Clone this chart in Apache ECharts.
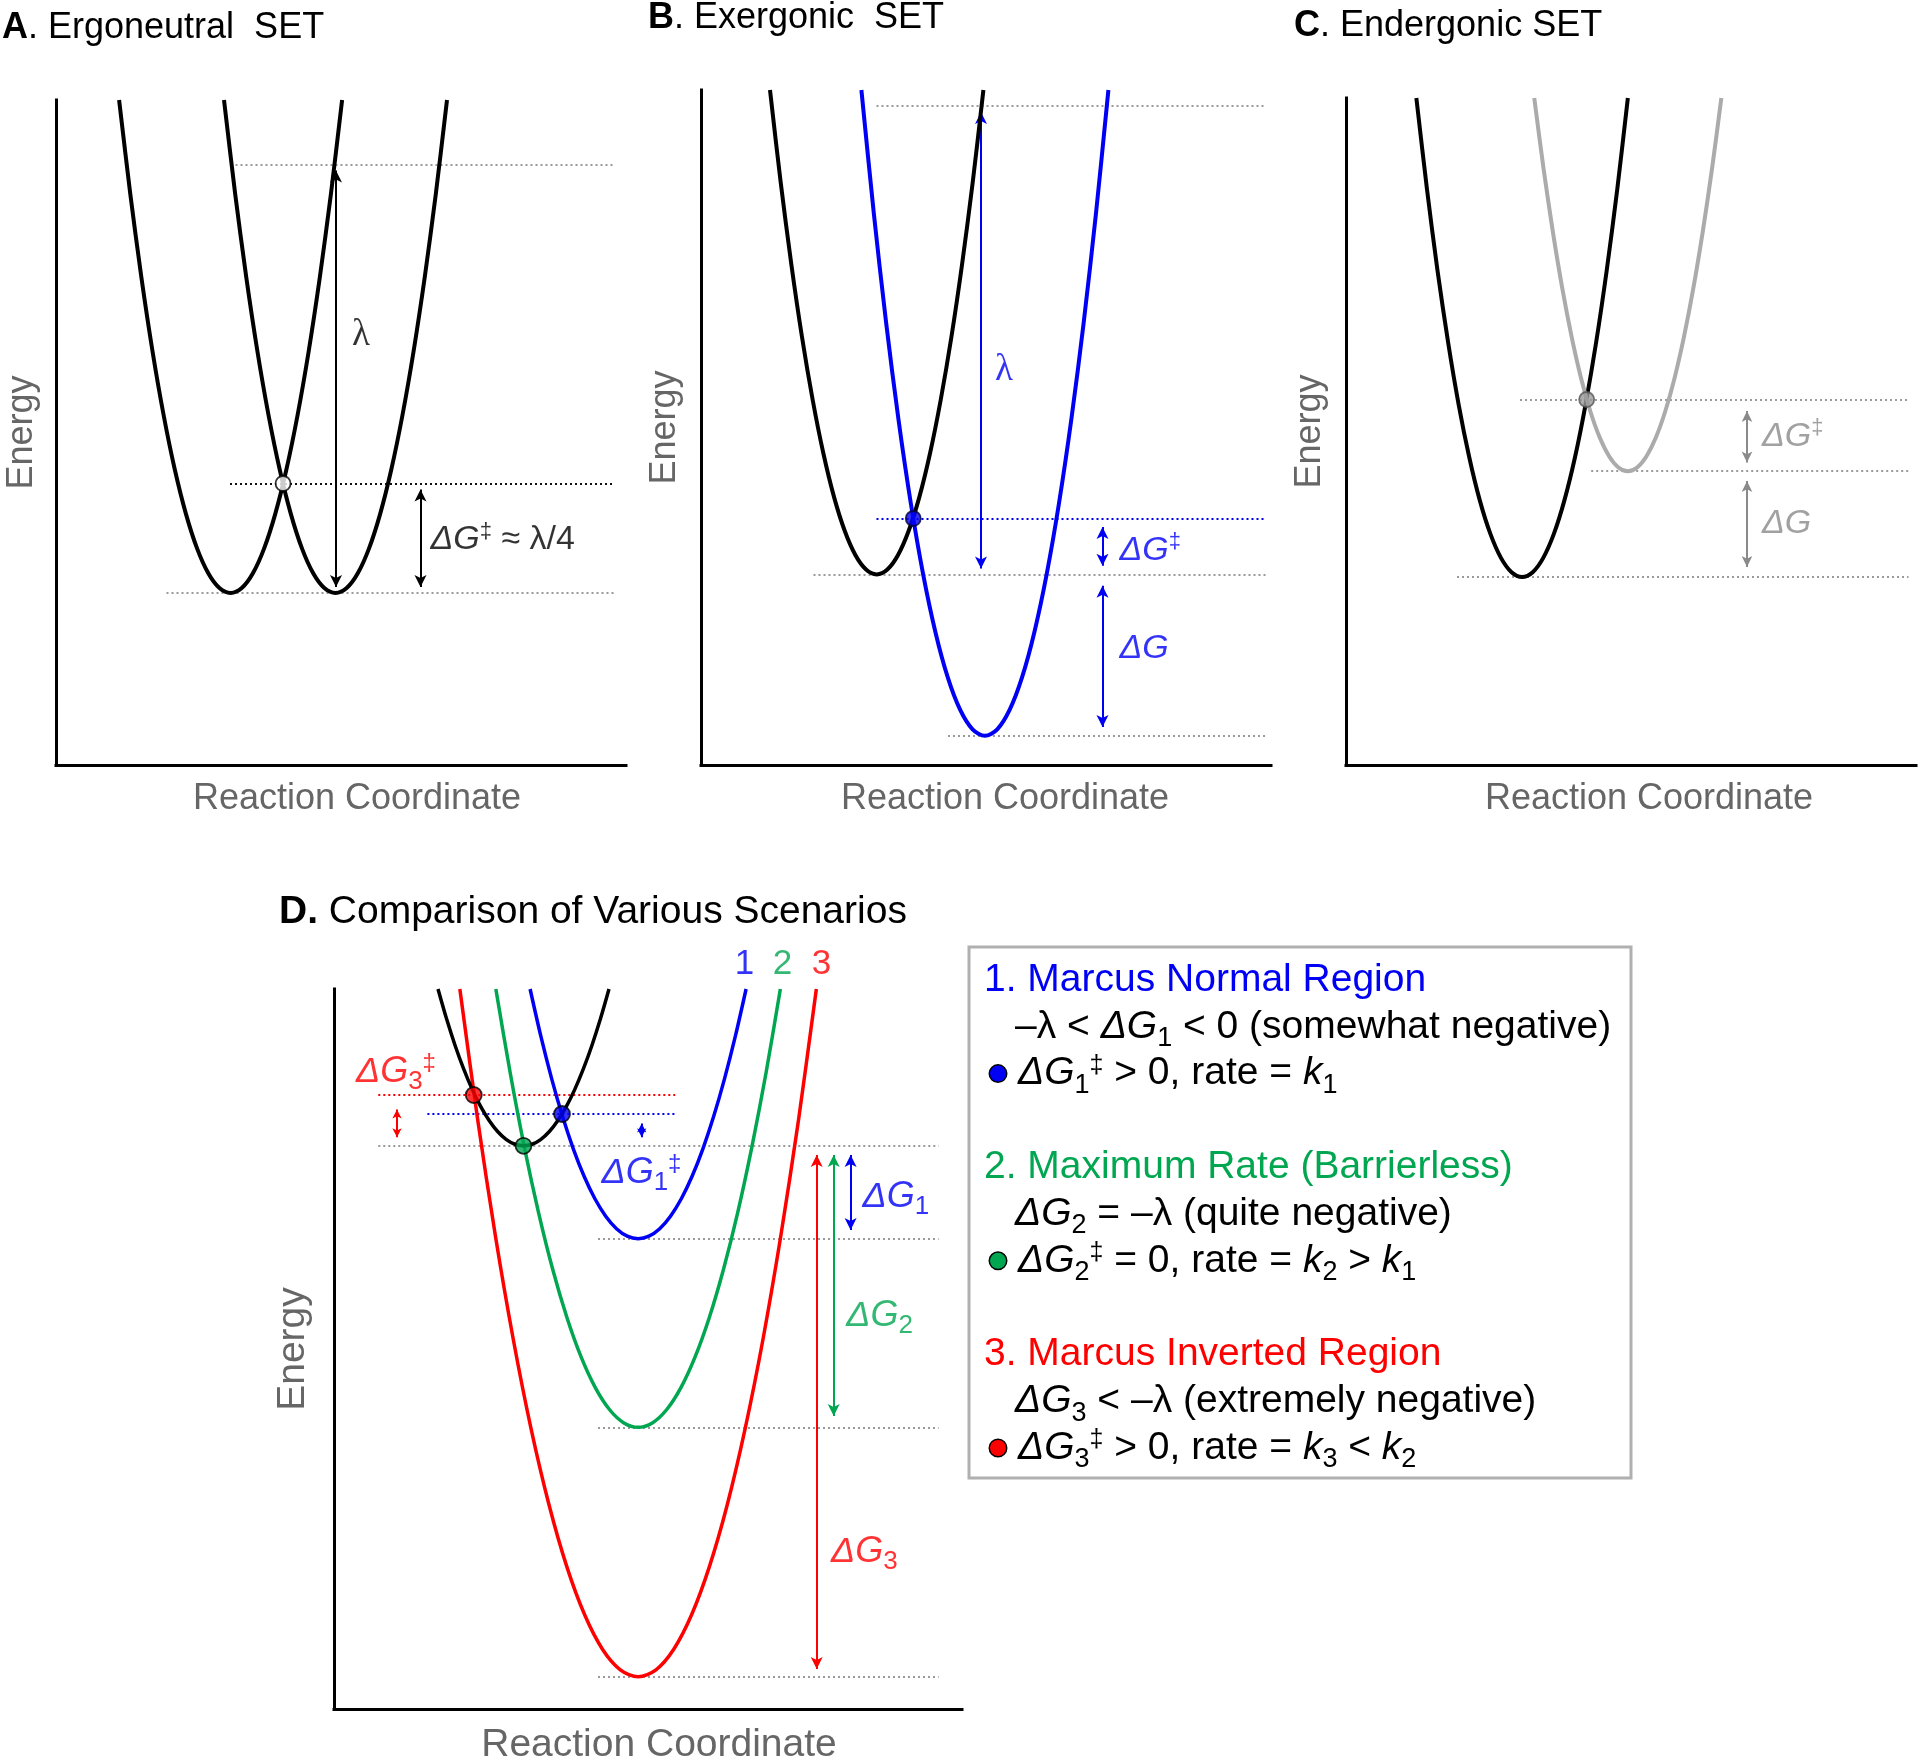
<!DOCTYPE html>
<html>
<head>
<meta charset="utf-8">
<title>Marcus theory SET diagrams</title>
<script src="https://cdn.jsdelivr.net/npm/echarts@6/dist/echarts.min.js"></script>
<style>
html,body{margin:0;padding:0;background:#ffffff;}
#chart{width:1918px;height:1763px;}
</style>
</head>
<body>
<div id="chart"></div>
<script>
// ====================== DATA ======================
// axis extents of each panel (arbitrary reaction-coordinate / energy units)
const panelXMax = [114, 114, 114, 125.6];
const panelYMax = [133, 135, 133.4, 144];

const panelTitles = ['{b|A}. Ergoneutral  SET', '{b|B}. Exergonic  SET', '{b|C}. Endergonic SET', '{b|D.} Comparison of Various Scenarios'];
const xAxisTitle = 'Reaction Coordinate';
const yAxisTitle = 'Energy';

// ---- Panel A : Ergoneutral SET (both wells have the same energy profile) ----
const aReactantX = [12.62,14.85,17.08,19.31,21.54,23.77,26.0,28.23,30.46,32.69,34.92,37.15,39.38,41.61,43.84,46.07,48.3,50.53,52.76,54.99,57.22];
const aProductX  = [33.6,35.83,38.06,40.29,42.52,44.75,46.98,49.21,51.44,53.67,55.9,58.13,60.36,62.59,64.82,67.05,69.28,71.51,73.74,75.97,78.2];
const aEnergy    = [133.0,114.27,97.5,82.71,69.9,59.05,50.18,43.27,38.34,35.39,34.4,35.39,38.34,43.27,50.18,59.05,69.9,82.71,97.5,114.27,133.0];
const aCrossing = [[45.41,56.3]];
const aGrayLevels = [[34.9,111.6,120.1],[22.1,111.6,34.4]];      // [x from, x to, energy]
const aBarrierLevels = [[34.8,111.6,56.3]];
const aArrows = [[56.0,35.6,118.9],[72.9,55.1,35.6]];           // [x, energy from, energy to]
const aLabels = [[59.2,86.0,'{l|λ}'],[74.9,45.0,'{i|ΔG}{sup|‡}{n| ≈ λ/4}']];

// ---- Panel B : Exergonic SET ----
const bReactantX = [13.8,15.93,18.07,20.2,22.34,24.47,26.6,28.74,30.87,33.01,35.14,37.27,39.41,41.54,43.68,45.81,47.94,50.08,52.21,54.35,56.48];
const bReactantE = [135.0,116.59,100.12,85.59,73.0,62.34,53.62,46.84,42.0,39.09,38.12,39.09,42.0,46.84,53.62,62.34,73.0,85.59,100.12,116.59,135.0];
const bProductX  = [32.08,34.55,37.02,39.49,41.96,44.43,46.9,49.37,51.84,54.31,56.78,59.25,61.72,64.19,66.66,69.13,71.6,74.07,76.54,79.01,81.48];
const bProductE  = [135.0,110.46,88.5,69.13,52.34,38.13,26.51,17.46,11.01,7.13,5.84,7.13,11.01,17.46,26.51,38.13,52.34,69.13,88.5,110.46,135.0];
const bCrossing = [[42.45,49.3]];
const bGrayLevels = [[35.1,113.1,131.8],[22.5,113.1,38.12],[49.4,113.1,5.84]];
const bBarrierLevels = [[35.1,113.1,49.3]];
const bArrows = [[56.0,39.3,130.6],[80.3,47.6,39.86],[80.3,35.86,7.6]];
const bLabels = [[58.8,79.0,'{l|λ}'],[83.7,42.9,'{i|ΔG}{sup|‡}'],[83.7,23.3,'{i|ΔG}']];

// ---- Panel C : Endergonic SET ----
const cReactantX = [14.07,16.19,18.3,20.42,22.53,24.65,26.76,28.88,30.99,33.11,35.22,37.34,39.45,41.57,43.68,45.8,47.91,50.03,52.14,54.26,56.37];
const cReactantE = [133.4,115.2,98.91,84.54,72.09,61.55,52.93,46.22,41.43,38.56,37.6,38.56,41.43,46.22,52.93,61.55,72.09,84.54,98.91,115.2,133.4];
const cProductX  = [37.65,39.52,41.39,43.26,45.13,47.0,48.88,50.75,52.62,54.49,56.36,58.23,60.1,61.97,63.84,65.72,67.59,69.46,71.33,73.2,75.07];
const cProductE  = [133.4,119.22,106.53,95.33,85.63,77.42,70.7,65.48,61.75,59.51,58.76,59.51,61.75,65.48,70.7,77.42,85.63,95.33,106.53,119.22,133.4];
const cCrossing = [[48.13,73.1]];
const cGrayLevels = [[34.8,112.5,73.1],[49.04,112.5,58.76],[22.2,112.5,37.6]];
const cArrows = [[80.2,70.8,60.5],[80.2,56.8,39.6]];
const cLabels = [[83.2,65.66,'{i|ΔG}{sup|‡}'],[83.2,48.2,'{i|ΔG}']];

// ---- Panel D : Comparison of various scenarios ----
const dReactantX = [20.8,22.51,24.22,25.93,27.64,29.35,31.06,32.77,34.48,36.19,37.9,39.61,41.32,43.03,44.74,46.45,48.16,49.87,51.58,53.29,55.0];
const dReactantE = [144,138.04,132.71,128.01,123.93,120.48,117.66,115.46,113.89,112.95,112.64,112.95,113.89,115.46,117.66,120.48,123.93,128.01,132.71,138.04,144];
const dNormalX = [39.22,41.38,43.54,45.7,47.86,50.02,52.18,54.34,56.5,58.66,60.82,62.98,65.14,67.3,69.46,71.62,73.78,75.94,78.1,80.26,82.42];
const dNormalE = [144,134.51,126.02,118.53,112.04,106.55,102.05,98.56,96.06,94.56,94.06,94.56,96.06,98.56,102.05,106.55,112.04,118.53,126.02,134.51,144];
const dBarrierlessX = [32.37,35.22,38.06,40.91,43.75,46.6,49.44,52.29,55.13,57.98,60.82,63.67,66.51,69.36,72.2,75.05,77.89,80.74,83.58,86.43,89.27];
const dBarrierlessE = [144,127.34,112.44,99.29,87.9,78.26,70.37,64.23,59.85,57.22,56.34,57.22,59.85,64.23,70.37,78.26,87.9,99.29,112.44,127.34,144];
const dInvertedX = [25.17,28.74,32.3,35.87,39.43,43.0,46.56,50.13,53.69,57.26,60.82,64.39,67.95,71.52,75.08,78.65,82.21,85.78,89.34,92.91,96.47];
const dInvertedE = [144,117.87,94.49,73.85,55.97,40.85,28.47,18.84,11.96,7.84,6.46,7.84,11.96,18.84,28.47,40.85,55.97,73.85,94.49,117.87,144];
const dCrossings = [[45.6,119.0],[37.9,112.64],[27.95,122.8]];   // scenario 1, 2, 3
const dGrayLevels = [[8.86,120.92,112.64],[52.8,120.92,94.06],[52.8,120.92,56.34],[52.8,120.92,6.46]];
const dBarrier1 = [[18.68,68.24,119.0]];
const dBarrier3 = [[8.86,68.24,122.8]];
const dArrows1 = [[103.32,110.8,95.82]];
const dArrows2 = [[99.94,110.8,58.6]];
const dArrows3 = [[96.54,110.8,8.0]];
const dSmallArrows1 = [[61.54,117.1,114.34]];
const dSmallArrows3 = [[12.6,119.9,114.34]];
const dLabels1 = [[53.5,107.2,'{i|ΔG}{sub|1}{sup|‡}'],[105.7,102.4,'{i|ΔG}{sub|1}']];
const dLabels2 = [[102.46,78.7,'{i|ΔG}{sub|2}']];
const dLabels3 = [[4.4,127.4,'{i|ΔG}{sub|3}{sup|‡}'],[99.4,31.4,'{i|ΔG}{sub|3}']];
const dCurveNumbers = [[82.1,148.9,'1'],[89.7,148.9,'2'],[97.5,148.9,'3']];

const legendLines = [
  '{h1|1. Marcus Normal Region}',
  '{ind|}{t|–λ < }{i|ΔG}{sub|1}{t| < 0 (somewhat negative)}',
  '{pad|}{dot1|}{gap|}{i|ΔG}{sub|1}{sup|‡}{t| > 0, rate = }{i|k}{sub|1}',
  '{t| }',
  '{h2|2. Maximum Rate (Barrierless)}',
  '{ind|}{i|ΔG}{sub|2}{t| = –λ (quite negative)}',
  '{pad|}{dot2|}{gap|}{i|ΔG}{sub|2}{sup|‡}{t| = 0, rate = }{i|k}{sub|2}{t| > }{i|k}{sub|1}',
  '{t| }',
  '{h3|3. Marcus Inverted Region}',
  '{ind|}{i|ΔG}{sub|3}{t| < –λ (extremely negative)}',
  '{pad|}{dot3|}{gap|}{i|ΔG}{sub|3}{sup|‡}{t| > 0, rate = }{i|k}{sub|3}{t| < }{i|k}{sub|2}'
];

// ====================== STYLE / LAYOUT ======================
const FONT = "'Liberation Sans', Arial, Helvetica, sans-serif";
const SERIF = "'Liberation Serif', 'Times New Roman', serif";
const BLUE = '#0000f5', GREEN = '#00a650', RED = '#ff0000';
const GRAY_DOT = '#9a9a9a', GRAY_TXT = '#8a8a8a', GRAY_CURVE = '#ababab', AXIS_NAME = '#666666';

const grids = [
  {left:56,  top:100, width:570, height:665},
  {left:701, top:90,  width:570, height:675},
  {left:1346,top:98,  width:570, height:667},
  {left:334, top:989, width:628, height:720}
];
const axisNameSize = [36, 36, 36, 39];
const xNameShift = [32, 38, 36, 22];
const xNameGap = [16, 16, 16, 17];
const yNameGap = [16, 18, 18, 21];
const titlePos = [[2,10,36],[648,0,36],[1294,8,36],[279,893,39]];

const zip = (xs, ys) => xs.map((x,k) => [x, ys[k]]);

function richFor(size, color) {
  return {
    i:   {fontStyle:'italic', fontSize:size, color:color, fontFamily:FONT},
    n:   {fontSize:size, color:color, fontFamily:FONT},
    l:   {fontSize:Math.round(size*1.1), color:color, fontFamily:SERIF},
    sub: {fontSize:Math.round(size*0.72), color:color, fontFamily:FONT, padding:[Math.round(size*0.55),0,0,0]},
    sup: {fontSize:Math.round(size*0.66), color:color, fontFamily:FONT, padding:[0,0,Math.round(size*0.5),0]}
  };
}
function curveSeries(gi, data, color, width) {
  return {type:'line', xAxisIndex:gi, yAxisIndex:gi, data:data, smooth:0.3, symbol:'none', showSymbol:false,
          silent:true, clip:false, z:6, lineStyle:{color:color, width:width, join:'round'}};
}
function levelItems(list, color) {
  return list.map(([x1,x2,y]) => [
    {coord:[x1,y], symbol:'none', lineStyle:{color:color, width:2, type:[2,3]}},
    {coord:[x2,y], symbol:'none'}]);
}
function arrowItems(list, color, size) {
  return list.map(([x,y1,y2]) => [
    {coord:[x,y1], symbol:'arrow', symbolSize:size, lineStyle:{color:color, width:2, type:'solid'}, itemStyle:{color:color}},
    {coord:[x,y2], symbol:'arrow', symbolSize:size, itemStyle:{color:color}}]);
}
function markHost(gi, items) {
  return {type:'scatter', xAxisIndex:gi, yAxisIndex:gi, data:[[0,0]], symbolSize:0, silent:true, clip:false, z:2,
          markLine:{silent:true, animation:false, symbol:'none', label:{show:false}, data:items}};
}
function labelSeries(gi, list, color, size) {
  return {type:'scatter', xAxisIndex:gi, yAxisIndex:gi, symbolSize:0, silent:true, clip:false, z:8,
          data:list.map(([x,y,t]) => ({value:[x,y], label:{formatter:t}})),
          label:{show:true, position:'right', distance:0, color:color, fontSize:size, fontFamily:FONT, rich:richFor(size,color)}};
}
function dotSeries(gi, list, fills, border, size) {
  return {type:'scatter', xAxisIndex:gi, yAxisIndex:gi, symbol:'circle', symbolSize:size, silent:true, clip:false, z:10,
          data:list.map((p,k) => ({value:p, itemStyle:{color:fills[k], borderColor:border, borderWidth:1.8}}))};
}

const series = [
  // Panel A
  markHost(0, [...levelItems(aGrayLevels, GRAY_DOT), ...levelItems(aBarrierLevels, '#111'), ...arrowItems(aArrows, '#000', [9,12])]),
  curveSeries(0, zip(aReactantX, aEnergy), '#000', 4),
  curveSeries(0, zip(aProductX, aEnergy), '#000', 4),
  dotSeries(0, aCrossing, ['#ffffff'], '#000', 15),
  labelSeries(0, aLabels, '#000', 34),
  // Panel B
  markHost(1, [...levelItems(bGrayLevels, GRAY_DOT), ...levelItems(bBarrierLevels, BLUE), ...arrowItems(bArrows, BLUE, [9,12])]),
  curveSeries(1, zip(bReactantX, bReactantE), '#000', 4),
  curveSeries(1, zip(bProductX, bProductE), BLUE, 4),
  dotSeries(1, bCrossing, [BLUE], '#000033', 15),
  labelSeries(1, bLabels, BLUE, 34),
  // Panel C
  markHost(2, [...levelItems(cGrayLevels, GRAY_DOT), ...arrowItems(cArrows, GRAY_TXT, [8,11])]),
  curveSeries(2, zip(cReactantX, cReactantE), '#000', 4),
  curveSeries(2, zip(cProductX, cProductE), GRAY_CURVE, 4),
  dotSeries(2, cCrossing, ['#9a9a9a'], '#555', 15),
  labelSeries(2, cLabels, GRAY_TXT, 34),
  // Panel D
  markHost(3, [...levelItems(dGrayLevels, GRAY_DOT), ...levelItems(dBarrier1, BLUE), ...levelItems(dBarrier3, RED),
               ...arrowItems(dArrows1, BLUE, [9,12]), ...arrowItems(dArrows2, GREEN, [9,12]), ...arrowItems(dArrows3, RED, [9,12]),
               ...arrowItems(dSmallArrows1, BLUE, [7,9]), ...arrowItems(dSmallArrows3, RED, [7,9])]),
  curveSeries(3, zip(dInvertedX, dInvertedE), RED, 3.5),
  curveSeries(3, zip(dBarrierlessX, dBarrierlessE), GREEN, 3.5),
  curveSeries(3, zip(dNormalX, dNormalE), BLUE, 3.5),
  curveSeries(3, zip(dReactantX, dReactantE), '#000', 3.5),
  dotSeries(3, dCrossings, [BLUE, GREEN, RED], '#000', 16),
  labelSeries(3, dLabels1, BLUE, 36),
  labelSeries(3, dLabels2, GREEN, 36),
  labelSeries(3, dLabels3, RED, 36),
  {type:'scatter', xAxisIndex:3, yAxisIndex:3, symbolSize:0, silent:true, clip:false, z:8,
   data:dCurveNumbers.map(([x,y,t],k) => ({value:[x,y], label:{formatter:t, color:[BLUE,GREEN,RED][k]}})),
   label:{show:true, position:'inside', fontSize:35, fontFamily:FONT}}
];

const titles = panelTitles.map((t,i) => ({
  text:t, left:titlePos[i][0], top:titlePos[i][1], padding:0,
  textStyle:{fontSize:titlePos[i][2], fontWeight:'normal', color:'#000', fontFamily:FONT,
             rich:{b:{fontWeight:'bold', fontSize:titlePos[i][2], color:'#000', fontFamily:FONT}}}
}));
titles.push({
  text: legendLines.join('\n'), left:984, top:956.6, padding:0,
  textStyle:{fontSize:39, lineHeight:46.8, color:'#000', fontWeight:'normal', fontFamily:FONT,
    rich:{
      h1:{color:BLUE, fontSize:39, fontFamily:FONT},
      h2:{color:GREEN, fontSize:39, fontFamily:FONT},
      h3:{color:RED, fontSize:39, fontFamily:FONT},
      t:{color:'#000', fontSize:39, fontFamily:FONT},
      i:{color:'#000', fontSize:39, fontStyle:'italic', fontFamily:FONT},
      sub:{color:'#000', fontSize:27, fontFamily:FONT, padding:[24,0,0,0]},
      sup:{color:'#000', fontSize:25, fontFamily:FONT, padding:[0,0,15,0]},
      ind:{width:31},
      pad:{width:6},
      gap:{width:12},
      dot1:{width:16, height:16, borderRadius:8, backgroundColor:BLUE, borderColor:'#000', borderWidth:1.5},
      dot2:{width:16, height:16, borderRadius:8, backgroundColor:GREEN, borderColor:'#000', borderWidth:1.5},
      dot3:{width:16, height:16, borderRadius:8, backgroundColor:RED, borderColor:'#000', borderWidth:1.5}
    }}
});

const option = {
  animation:false,
  backgroundColor:'#ffffff',
  textStyle:{fontFamily:FONT},
  title: titles,
  grid: grids.map(g => Object.assign({containLabel:false, outerBoundsMode:'none'}, g)),
  xAxis: grids.map((g,i) => ({
    gridIndex:i, type:'value', min:0, max:panelXMax[i],
    axisLine:{show:true, onZero:false, lineStyle:{color:'#000', width:3, cap:'square'}},
    axisTick:{show:false}, axisLabel:{show:false}, splitLine:{show:false},
    name:xAxisTitle, nameLocation:'middle', nameGap:xNameGap[i],
    nameTextStyle:{fontSize:axisNameSize[i], color:AXIS_NAME, fontFamily:FONT, padding:[0,0,0,xNameShift[i]]}
  })),
  yAxis: grids.map((g,i) => ({
    gridIndex:i, type:'value', min:0, max:panelYMax[i],
    axisLine:{show:true, onZero:false, lineStyle:{color:'#000', width:3, cap:'square'}},
    axisTick:{show:false}, axisLabel:{show:false}, splitLine:{show:false},
    name:yAxisTitle, nameLocation:'middle', nameRotate:90, nameGap:yNameGap[i],
    nameTextStyle:{fontSize:axisNameSize[i], color:AXIS_NAME, fontFamily:FONT}
  })),
  graphic:[{type:'rect', shape:{x:969, y:947, width:662, height:531}, style:{fill:'none', stroke:'#b0b0b0', lineWidth:3}, silent:true}],
  series: series
};

const chart = echarts.init(document.getElementById('chart'), null, {renderer:'canvas'});
chart.setOption(option);
</script>
</body>
</html>
